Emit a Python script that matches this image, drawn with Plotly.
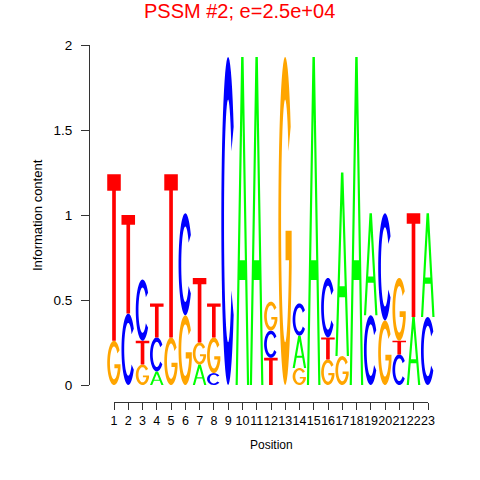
import numpy as np
import plotly.graph_objects as go

# ---------------- data ----------------
positions = list(range(1, 24))
# stacking order (bottom -> top) per position
stack_order = ["GT", "CT", "GTC", "ACT", "GT", "GC", "AGT", "CGT", "C", "A", "A", "TCG",
               "G", "GAC", "A", "GTC", "GA", "A", "CA", "GC", "CTG", "AT", "CA"]
info_A = [0, 0, 0, 0.08, 0, 0, 0.12, 0, 0, 1.93, 1.93, 0, 0, 0.19, 1.93, 0, 1.08, 1.93, 0.60, 0, 0, 0.40, 0.61]
info_C = [0, 0.42, 0.36, 0.20, 0, 0.60, 0, 0.07, 1.93, 0, 0, 0.16, 0, 0.19, 0, 0.35, 0, 0, 0.41, 0.63, 0.18, 0, 0.40]
info_G = [0.26, 0, 0.12, 0, 0.28, 0.41, 0.13, 0.21, 0, 0, 0, 0.17, 1.93, 0.10, 0, 0.15, 0.17, 0, 0, 0.38, 0.37, 0, 0]
info_T = [0.98, 0.58, 0.14, 0.20, 0.96, 0, 0.38, 0.20, 0, 0, 0, 0.16, 0, 0, 0, 0.13, 0, 0, 0, 0, 0.08, 0.61, 0]
y_ticks = [0, 0.5, 1, 1.5, 2]
y_tick_labels = ["0", "0.5", "1", "1.5", "2"]

colors = {"A": "#00FF00", "C": "#0000FF", "G": "#FFA500", "T": "#FF0000"}
heights = {"A": info_A, "C": info_C, "G": info_G, "T": info_T}

W = 0.95  # letter width in position units
FONT = "Liberation Sans, Arial, Helvetica, sans-serif"
OFF = 0  # body margin removed by post_script below


def px(p):
    return (p - OFF) / 480


def py(p):
    return (480 - (p - OFF)) / 480


def arc(rx, ry, a0, a1, n=48):
    t = np.radians(np.linspace(a0, a1, n))
    return list(zip(0.5 + rx * np.cos(t), 0.5 + ry * np.sin(t)))


def glyph(letter):
    """Return (list of polygons in unit box, fillrule)."""
    if letter == "T":
        return [[(0, 1), (1, 1), (1, 0.9), (0.635, 0.9), (0.635, 0), (0.365, 0),
                 (0.365, 0.9), (0, 0.9)]], "nonzero"
    if letter == "A":
        xl = lambda y: 0.16 + 0.34 * y / 0.83
        xr = lambda y: 1 - xl(y)
        outer = [(0, 0), (0.41, 1), (0.59, 1), (1, 0), (0.84, 0), (xr(0.32), 0.32),
                 (xl(0.32), 0.32), (0.16, 0)]
        hole = [(xl(0.38), 0.38), (0.5, 0.83), (xr(0.38), 0.38)]
        return [outer, hole], "evenodd"
    if letter == "C":
        poly = arc(0.5, 0.5, 35, 325) + arc(0.30, 0.37, 325, 35)
        return [poly], "nonzero"
    if letter == "G":
        phi = 360 + np.degrees(np.arcsin((0.38 - 0.5) / 0.37))
        xi = 0.5 + 0.30 * np.cos(np.radians(phi))
        poly = (arc(0.5, 0.5, 35, 344) +
                [(0.98, 0.47), (0.53, 0.47), (0.53, 0.38), (xi, 0.38)] +
                arc(0.30, 0.37, phi, 35))
        return [poly], "nonzero"


shapes = []
for i, pos in enumerate(positions):
    base = 0.0
    for letter in stack_order[i]:
        h = heights[letter][i]
        if h <= 0:
            continue
        polys, rule = glyph(letter)
        parts = []
        for poly in polys:
            pts = [(pos - W / 2 + u * W, base + v * h) for u, v in poly]
            parts.append("M " + " L ".join(f"{x:.4f},{y:.4f}" for x, y in pts) + " Z")
        shapes.append(dict(type="path", path=" ".join(parts), xref="x", yref="y",
                           fillcolor=colors[letter], line=dict(width=0), fillrule=rule,
                           layer="above"))
        base += h

fig = go.Figure()
# invisible trace so the position axis is drawn
fig.add_trace(go.Scatter(x=positions, y=[0] * len(positions), xaxis="x2", yaxis="y",
                         mode="markers", marker=dict(opacity=0), hoverinfo="skip",
                         showlegend=False))

fig.update_layout(
    width=480, height=480,
    margin=dict(l=0, r=0, t=0, b=0, autoexpand=False),
    paper_bgcolor="white", plot_bgcolor="white",
    font=dict(family=FONT, color="black"),
    shapes=shapes,
    hovermode=False,
    xaxis=dict(domain=[px(90), px(456)], range=[-0.683, 24.98], visible=False,
               showgrid=False, zeroline=False, automargin=False),
    xaxis2=dict(domain=[px(114), px(428)], range=[1, 23], anchor="free",
                position=py(402), showline=True, linecolor="#333", linewidth=1,
                ticks="outside", ticklen=7, tickcolor="#333", tickvals=positions,
                ticktext=[str(p) for p in positions], tickangle=0, automargin=False,
                tickfont=dict(size=12.5, family=FONT), showgrid=False, zeroline=False),
    yaxis=dict(domain=[py(385), py(45)], range=[0, 2], anchor="x",
               showline=True, linecolor="#333", linewidth=1, ticks="outside", ticklen=8,
               tickcolor="#333", tickvals=y_ticks, ticktext=y_tick_labels, automargin=False,
               tickfont=dict(size=13.5, family=FONT), ticklabelstandoff=6,
               showgrid=False, zeroline=False),
    annotations=[
        dict(text="PSSM #2; e=2.5e+04", x=px(239), y=py(11), xref="paper",
             yref="paper", showarrow=False, xanchor="center", yanchor="middle",
             font=dict(size=20, color="#FF0000", family=FONT)),
        dict(text="Information content", x=px(38), y=py(215), xref="paper",
             yref="paper", showarrow=False, textangle=-90, xanchor="center",
             yanchor="middle", font=dict(size=13, family=FONT)),
        dict(text="Position", x=px(271), y=py(445), xref="paper",
             yref="paper", showarrow=False, xanchor="center", yanchor="middle",
             font=dict(size=12, family=FONT)),
    ],
)

fig.write_html("out.html", config={"displayModeBar": False, "staticPlot": True},
               post_script="document.body.style.margin='0px';")
